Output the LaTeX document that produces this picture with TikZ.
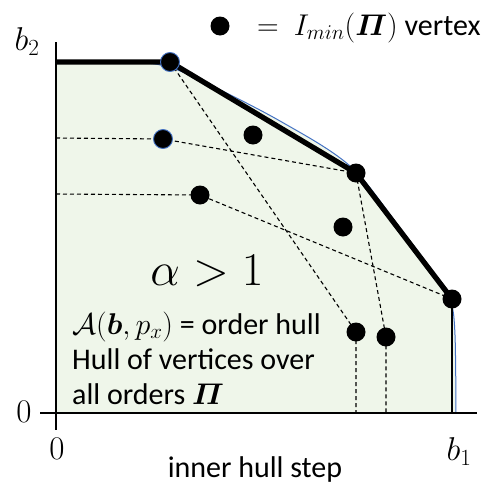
\RequirePackage{fix-cm}
\documentclass[tikz,border=0pt]{standalone}
\usepackage{amsmath,bm}
\usepackage[no-math]{fontspec}
\setmainfont{Carlito}
\definecolor{hullfill}{RGB}{239,246,234}
\definecolor{hullblue}{RGB}{68,114,196}
\tikzset{
  dot/.style={circle,fill=black,inner sep=0pt,minimum size=19pt},
  bdot/.style={dot,draw=hullblue,line width=0.9pt},
  dashline/.style={draw=black,line width=1.1pt,dash pattern=on 4pt off 3pt},
  hullline/.style={draw=black,line width=5.3pt,line join=round},
  axisline/.style={draw=black,line width=2pt},
  txt/.style={inner sep=0pt,font=\fontsize{30}{34}\selectfont},
  mlabel/.style={inner sep=0pt,font=\fontsize{33}{37}\selectfont}
}
\begin{document}
\begin{tikzpicture}[x=1pt,y=-1pt]
\useasboundingbox (0,0) rectangle (481,485);
% coordinates
\coordinate (ytop) at (56,42);
\coordinate (ybot) at (56,430);
\coordinate (xl) at (40,413);
\coordinate (xr) at (477,413);
\coordinate (hs) at (56,62);
\coordinate (v1) at (170,62);
\coordinate (v2) at (356,173);
\coordinate (v3) at (452,299);
\coordinate (v4) at (452,413);
\coordinate (a1) at (56,138);
\coordinate (a2) at (56,194);
\coordinate (e1) at (356,413);
\coordinate (e2) at (386,413);
% fill under curve
\fill[hullfill] (56,413) -- plot[smooth,tension=0.55] coordinates {(56,62) (128,62) (165,66) (200,80) (280,121) (350,166) (400,228) (438,279) (451,302) (455,335) (456,413)} -- cycle;
% blue curve
\draw[hullblue,line width=1pt] plot[smooth,tension=0.55] coordinates {(56,62) (128,62) (165,66) (200,80) (280,121) (350,166) (400,228) (438,279) (451,302) (455,335) (456,413)};
% dot positions
\path (163,139) coordinate (c1) (253,135) coordinate (c2) (200,195) coordinate (c3)
      (343,227) coordinate (c4) (356,332) coordinate (c5) (386,337) coordinate (c6);
% dashed lines
\draw[dashline] (a1) -- (c1) -- (v2);
\draw[dashline] (a2) -- (c3) -- (v3);
\draw[dashline] (v1) -- (c5) -- (e1);
\draw[dashline] (v2) -- (c6) -- (e2);
% hull
\draw[hullline] (hs) -- (v1) -- (v2) -- (v3);
\draw[draw=black,line width=2pt] (v3) -- (v4);
% axes
\draw[axisline] (ytop) -- (ybot);
\draw[axisline] (xl) -- (xr);
% dots
\node[bdot] (d1) at (v1) {};
\node[bdot] (d2) at (c1) {};
\node[dot] (d3) at (c2) {};
\node[dot] (d4) at (v2) {};
\node[dot] (d5) at (c3) {};
\node[dot] (d6) at (c4) {};
\node[dot] (d7) at (v3) {};
\node[dot] (d8) at (c5) {};
\node[dot] (d9) at (c6) {};
% legend
\node[dot] (ldot) at (220,26) {};
\node[txt,anchor=base west] (ltext) at (257,35) {$=\ I_{min}(\boldsymbol{\varPi})$ vertex};
% axis labels
\node[mlabel] (lb2) at (27,42) {$b_2$};
\node[mlabel] (lzero) at (24,412) {$0$};
\node[mlabel] (bzero) at (57,449) {$0$};
\node[mlabel] (lb1) at (459,452) {$b_1$};
% alpha
\node[inner sep=0pt,font=\fontsize{47}{51}\selectfont] (alpha) at (207,271) {$\alpha > 1$};
% text block
\node[txt,anchor=base west] (t1) at (72,334) {$\mathcal{A}(\boldsymbol{b},p_x)$ = order hull};
\node[txt,anchor=base west] (t2) at (72,369) {Hull of vertices over};
\node[txt,anchor=base west] (t3) at (72,404) {all orders $\boldsymbol{\varPi}$};
\node[txt,anchor=base] (xcap) at (255,477) {inner hull step};
\end{tikzpicture}
\end{document}
